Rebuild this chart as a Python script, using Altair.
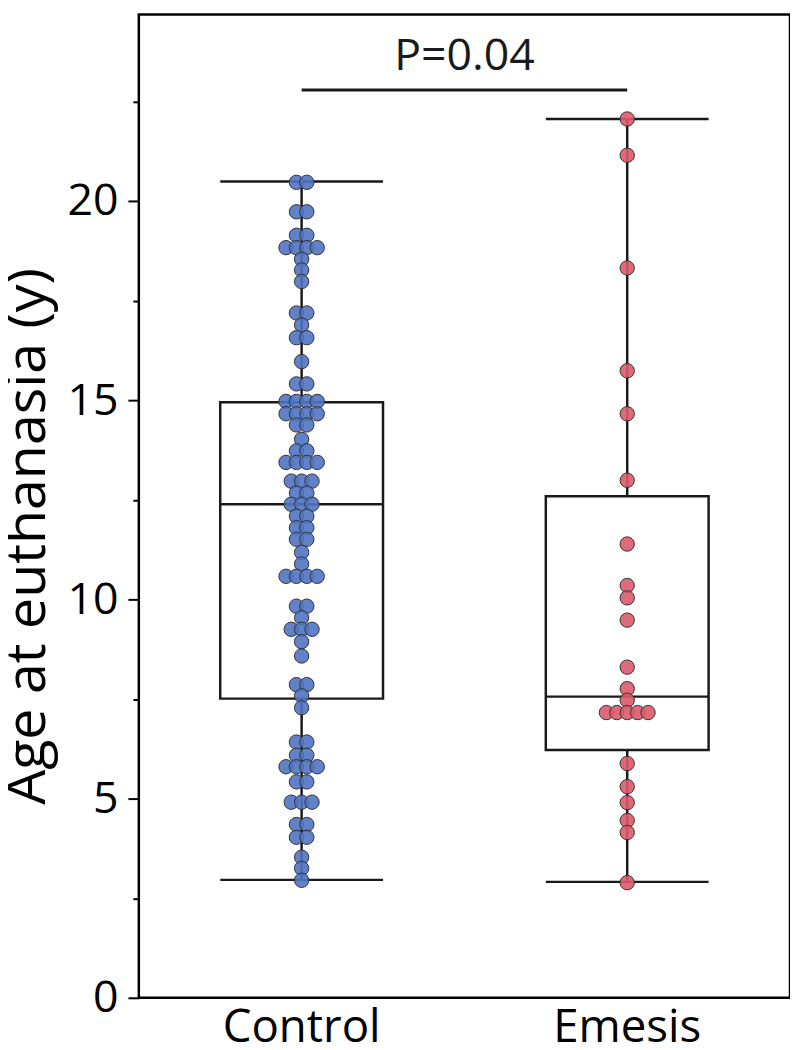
import altair as alt
import pandas as pd

# ---------------- data ----------------
groups = ["Control", "Emesis"]

control_ages = [
    20.47, 20.47, 19.73, 19.73, 19.14, 19.14, 18.83, 18.83, 18.83, 18.83,
    18.54, 18.27, 17.98, 17.19, 17.19, 16.89, 16.57, 16.57, 15.97, 15.41, 15.41,
    14.97, 14.97, 14.97, 14.97, 14.66, 14.66, 14.66, 14.66, 14.38, 14.38, 14.02,
    13.73, 13.73, 13.44, 13.44, 13.44, 13.44, 12.97, 12.97, 12.97, 12.67, 12.67,
    12.39, 12.39, 12.39, 12.09, 12.09, 11.80, 11.80, 11.51, 11.51, 11.18, 10.89,
    10.58, 10.58, 10.58, 10.58, 9.83, 9.83, 9.54, 9.25, 9.25, 9.25, 8.94, 8.58,
    7.86, 7.86, 7.58, 7.28, 6.42, 6.42, 6.09, 6.09, 5.80, 5.80, 5.80, 5.80,
    5.42, 5.42, 4.91, 4.91, 4.91, 4.35, 4.35, 4.03, 4.03, 3.53, 3.25, 2.95,
]

emesis_ages = [
    22.06, 21.15, 18.32, 15.74, 14.66, 12.99, 11.39, 10.35, 10.04, 9.48,
    8.30, 7.76, 7.47, 7.16, 7.16, 7.16, 7.16, 7.16, 5.88, 5.30, 4.90,
    4.45, 4.15, 2.89,
]

box_q1 = [7.51, 6.22]
box_median = [12.39, 7.56]
box_q3 = [14.95, 12.59]
whisker_low = [2.96, 2.91]
whisker_high = [20.49, 22.06]

p_label = "P=0.04"
bracket_value = 22.79
label_value = 23.3

y_ticks = [0, 2.5, 5, 7.5, 10, 12.5, 15, 17.5, 20, 22.5]
y_title = "Age at euthanasia (y)"
fills = ["#5074c2", "#dc5a6b"]

# ---------------- layout / style ----------------
W, H = 657, 992
Y_MAX = 24.68
SPACING = 10.5
FONT = "Open Sans"
INK = "#1a1a1a"
BOX_W = W / 4

# beeswarm-style spread of equal values (pixel offsets from band centre)
rows = []
for g, ages in zip(groups, [control_ages, emesis_ages]):
    counts = {}
    for a in ages:
        counts[a] = counts.get(a, 0) + 1
    seen = {}
    for a in ages:
        n = counts[a]
        i = seen.get(a, 0)
        seen[a] = i + 1
        rows.append({"group": g, "age": a, "off": (i - (n - 1) / 2) * SPACING})
pts = pd.DataFrame(rows)

box = pd.DataFrame({
    "group": groups, "q1": box_q1, "median": box_median, "q3": box_q3,
    "lo": whisker_low, "hi": whisker_high,
})
caps = pd.DataFrame({
    "group": groups + groups,
    "cap": whisker_low + whisker_high,
})
bracket = pd.DataFrame({"g1": [groups[0]], "g2": [groups[1]], "v": [bracket_value]})

BAND = W / 2
x_scale = alt.Scale(domain=groups, paddingInner=0, paddingOuter=0)
x_axis = alt.Axis(title=None, labelAngle=0, ticks=False, domain=False,
                  labelFont=FONT, labelFontSize=46, labelColor="black",
                  labelPadding=8)
y_scale = alt.Scale(domain=[0, Y_MAX], nice=False, zero=False)
y_axis = alt.Axis(
    title=y_title, values=y_ticks, grid=False, domain=False,
    labelExpr="datum.value % 5 === 0 ? datum.label : ''",
    tickSize=alt.condition("datum.value % 5 === 0", alt.value(11), alt.value(6)),
    tickWidth=2, tickColor="black",
    labelFont=FONT, labelFontSize=45, labelColor="black", labelPadding=10,
    titleFont=FONT, titleFontSize=56, titleFontWeight="normal", titleColor="black",
    titleAngle=270, titleBaseline="alphabetic", titleAlign="center",
    titleX=-95, titleY=526,
)


def X(field="group", axis=x_axis):
    return alt.X(f"{field}:N", scale=x_scale, axis=axis)


def Y(field):
    return alt.Y(f"{field}:Q", scale=y_scale, axis=y_axis)


whisker = alt.Chart(box).mark_rule(color=INK, strokeWidth=2.5, opacity=1).encode(
    x=X(), y=Y("lo"), y2="hi")

cap_marks = alt.Chart(caps).mark_tick(
    size=BOX_W, thickness=2.5, color=INK, opacity=1
).encode(x=X(), y=Y("cap"))

box_marks = alt.Chart(box).mark_bar(
    width=BOX_W, fill="white", stroke=INK, strokeWidth=2.5, opacity=1
).encode(x=X(), y=Y("q1"), y2="q3")

median_marks = alt.Chart(box).mark_tick(
    size=BOX_W, thickness=2.5, color=INK, opacity=1
).encode(x=X(), y=Y("median"))

bracket_line = alt.Chart(bracket).mark_rule(color=INK, strokeWidth=3).encode(
    x=X("g1"), x2="g2", y=Y("v"))

bracket_text = alt.Chart(bracket).mark_text(
    text=p_label, font=FONT, fontSize=45, color=INK, align="center", baseline="alphabetic"
).encode(x=alt.value(W / 2), y=alt.datum(label_value))

base = alt.layer(whisker, cap_marks, box_marks, median_marks, bracket_line, bracket_text)

points = alt.Chart(pts).mark_circle(
    size=210, stroke="#333333", strokeWidth=1, fillOpacity=0.9, strokeOpacity=1
).encode(
    x=X(axis=None),
    xOffset=alt.XOffset("off:Q", scale=alt.Scale(domain=[-BAND / 2, BAND / 2],
                                                 range=[0, BAND], nice=False, zero=False)),
    y=Y("age"),
    color=alt.Color("group:N", scale=alt.Scale(domain=groups, range=fills), legend=None),
)

chart = alt.layer(base, points).resolve_scale(x="independent").properties(
    width=W, height=H,
    autosize=alt.AutoSizeParams(type="none"),
    padding={"left": 132, "top": 2, "right": 0, "bottom": 48},
    background="white",
).configure_view(stroke="black", strokeWidth=2.5)

chart.save("out.html", embed_options={"renderer": "svg", "actions": False})
